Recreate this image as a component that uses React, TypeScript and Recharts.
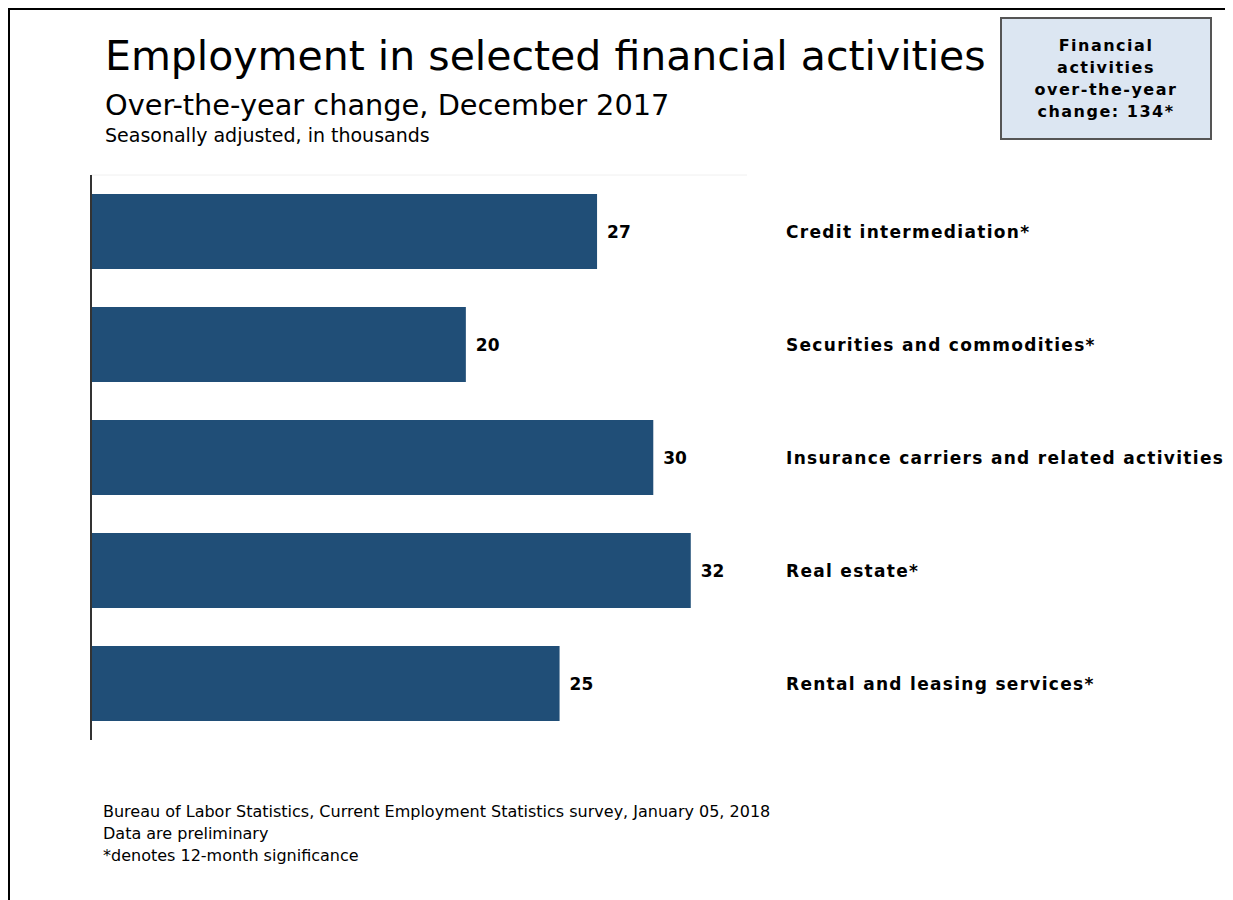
import React from 'react';
import { BarChart, Bar, XAxis, YAxis, LabelList } from 'recharts';

const categories = [
  'Credit intermediation*',
  'Securities and commodities*',
  'Insurance carriers and related activities',
  'Real estate*',
  'Rental and leasing services*',
];
const changes = [27, 20, 30, 32, 25];
const boxLines = ['Financial', 'activities', 'over-the-year', 'change: 134*'];
const notes = [
  'Bureau of Labor Statistics, Current Employment Statistics survey, January 05, 2018',
  'Data are preliminary',
  '*denotes 12-month significance',
];

const data = categories.map((name, i) => ({ name, value: changes[i] }));

const font = '"DejaVu Sans", Verdana, sans-serif';

const CategoryTick = (props: any) => {
  const { x, y, payload } = props;
  return (
    <text
      x={x}
      y={y}
      dx={31}
      dy={6}
      textAnchor="start"
      fontFamily={font}
      fontWeight="bold"
      fontSize={17}
      letterSpacing={1.3}
      fill="#000"
    >
      {payload.value}
    </text>
  );
};

export default function App() {
  return (
    <div
      style={{
        position: 'relative',
        width: 1225,
        height: 892,
        borderTop: '2px solid #000',
        borderLeft: '2px solid #000',
        boxSizing: 'border-box',
        fontFamily: font,
        color: '#000',
        overflow: 'hidden',
      }}
    >
      <div style={{ position: 'absolute', left: 95, top: 22, fontSize: 41, whiteSpace: 'nowrap' }}>
        Employment in selected financial activities
      </div>
      <div style={{ position: 'absolute', left: 95, top: 78, fontSize: 28.8, whiteSpace: 'nowrap' }}>
        Over-the-year change, December 2017
      </div>
      <div style={{ position: 'absolute', left: 95, top: 114, fontSize: 19, whiteSpace: 'nowrap' }}>
        Seasonally adjusted, in thousands
      </div>

      <div
        style={{
          position: 'absolute',
          left: 990,
          top: 7,
          width: 212,
          height: 123,
          boxSizing: 'border-box',
          background: '#dce6f2',
          border: '2px solid #555',
          textAlign: 'center',
          fontWeight: 'bold',
          fontSize: 16,
          letterSpacing: 1.5,
          lineHeight: '22px',
          paddingTop: 16,
        }}
      >
        {boxLines.map((l) => (
          <div key={l}>{l}</div>
        ))}
      </div>

      <div style={{ position: 'absolute', left: 0, top: 0 }}>
        <BarChart
          width={1223}
          height={890}
          data={data}
          layout="vertical"
          margin={{ top: 164, right: 0, bottom: 160, left: 80 }}
        >
          <XAxis
            type="number"
            orientation="top"
            domain={[0, 35]}
            height={1}
            tick={false}
            tickLine={false}
            axisLine={{ stroke: '#f0f0f0' }}
          />
          <YAxis
            type="category"
            dataKey="name"
            width={1}
            tick={false}
            tickLine={false}
            axisLine={{ stroke: '#333', strokeWidth: 2 }}
          />
          <YAxis
            yAxisId="right"
            type="category"
            dataKey="name"
            orientation="right"
            width={486}
            tickLine={false}
            axisLine={false}
            tick={<CategoryTick />}
          />
          <Bar dataKey="value" fill="#204e77" barSize={75} isAnimationActive={false}>
            <LabelList
              dataKey="value"
              position="right"
              offset={10}
              fill="#000"
              fontFamily={font}
              fontWeight="bold"
              fontSize={17}
            />
          </Bar>
        </BarChart>
      </div>

      <div style={{ position: 'absolute', left: 93, top: 791, fontSize: 16, lineHeight: '22px', whiteSpace: 'nowrap' }}>
        {notes.map((n) => (
          <div key={n}>{n}</div>
        ))}
      </div>
    </div>
  );
}
